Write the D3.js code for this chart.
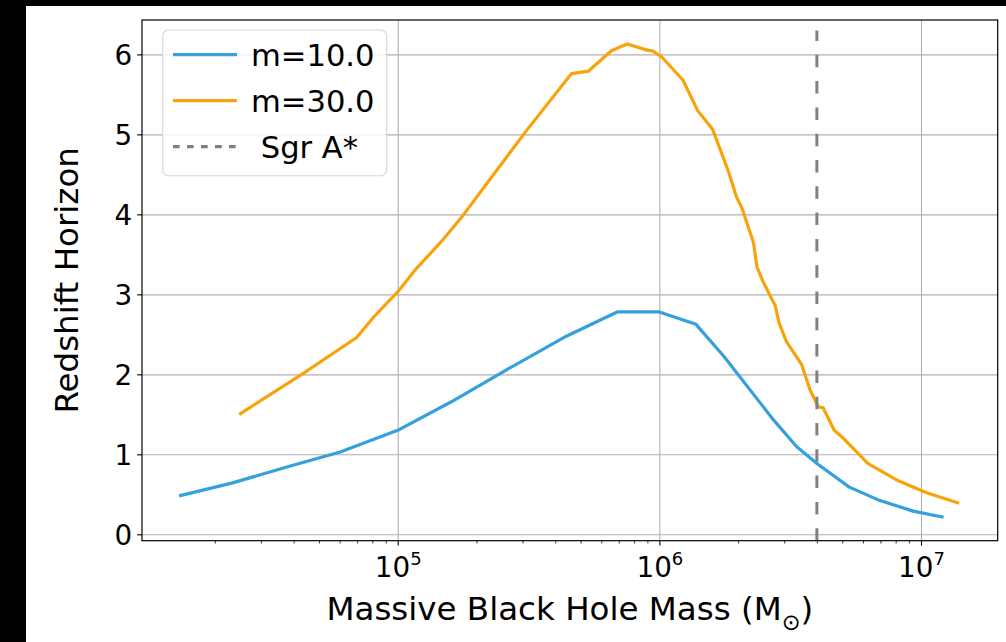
<!DOCTYPE html>
<html>
<head>
<meta charset="utf-8">
<script src="https://cdn.jsdelivr.net/npm/d3@7"></script>
<style>
  body { margin: 0; background: #000; }
  svg { display: block; font-family: "DejaVu Sans", sans-serif; }
</style>
</head>
<body>
<svg id="chart" width="1006" height="642"></svg>
<script>
// m=10.0 curve
var massA = [1.46e4, 2.32e4, 3.80e4, 6.03e4, 1.0e5, 1.61e5, 2.46e5, 4.43e5, 6.90e5, 1.0e6,
             1.38e6, 1.76e6, 2.73e6, 3.35e6, 3.99e6, 5.32e6, 6.87e6, 9.33e6, 1.22e7];
var zA    = [0.48, 0.64, 0.845, 1.03, 1.30, 1.66, 2.01, 2.48, 2.78, 2.78,
             2.625, 2.23, 1.43, 1.095, 0.8875, 0.59, 0.43, 0.29, 0.2125];
// m=30.0 curve
var massB = [2.48e4, 4.30e4, 6.97e4, 8.11e4, 1.0e5, 1.18e5, 1.45e5, 1.78e5, 2.34e5, 3.11e5,
             4.62e5, 5.35e5, 6.56e5, 7.53e5, 9.06e5, 9.42e5, 1.02e6, 1.23e6, 1.40e6, 1.60e6,
             1.84e6, 1.97e6, 2.07e6, 2.29e6, 2.36e6, 2.49e6, 2.77e6, 2.87e6, 3.06e6, 3.50e6,
             3.77e6, 4.05e6, 4.23e6, 4.66e6, 5.05e6, 6.28e6, 8.07e6, 1.05e7, 1.40e7];
var zB    = [1.50, 2.00, 2.46, 2.72, 3.03, 3.325, 3.64, 3.99, 4.51, 5.05,
             5.76, 5.79, 6.045, 6.13, 6.05, 6.045, 5.97, 5.68, 5.30, 5.06,
             4.53, 4.22, 4.075, 3.645, 3.345, 3.16, 2.86, 2.64, 2.41, 2.12,
             1.80, 1.595, 1.58, 1.30, 1.20, 0.885, 0.68, 0.52, 0.3875];
var sgrMass = 4.0e6;
var xMajor = [1e5, 1e6, 1e7];
var xExp   = ["5", "6", "7"];
var yTicks = [0, 1, 2, 3, 4, 5, 6];
var legendLabels = ["m=10.0", "m=30.0", " Sgr A*"];

var cBlue = "#34a0dc", cOrange = "#f8a30c", cGray = "#808080";

var svg = d3.select("#chart");
svg.append("rect").attr("x", 26).attr("y", 6).attr("width", 980).attr("height", 636).attr("fill", "#fff");

var padL = 142, padT = 20, padR = 997.7, padB = 540.7;
var W = padR - padL, H = padB - padT;

var x = d3.scaleLog().domain([10537, 1.964e7]).range([0, W]);
var y = d3.scaleLinear().domain([-0.08, 6.43]).range([H, 0]);

var g = svg.append("g").attr("transform", "translate(" + padL + "," + padT + ")");

// grid
g.append("g").attr("transform", "translate(0," + H + ")")
    .call(d3.axisBottom(x).tickValues(xMajor).tickSize(-H).tickFormat(""))
    .call(function(s) { s.select(".domain").remove(); })
    .selectAll("line").attr("stroke", "#b0b0b0").attr("stroke-width", 1.1);
g.append("g")
    .call(d3.axisLeft(y).tickValues(yTicks).tickSize(-W).tickFormat(""))
    .call(function(s) { s.select(".domain").remove(); })
    .selectAll("line").attr("stroke", "#b0b0b0").attr("stroke-width", 1.1);

// lines
var line = d3.line().x(function(d) { return x(d[0]); }).y(function(d) { return y(d[1]); });
g.append("path").datum(d3.zip(massA, zA))
    .attr("d", line).attr("fill", "none").attr("stroke", cBlue)
    .attr("stroke-width", 3.2).attr("stroke-linejoin", "round");
g.append("path").datum(d3.zip(massB, zB))
    .attr("d", line).attr("fill", "none").attr("stroke", cOrange)
    .attr("stroke-width", 3.2).attr("stroke-linejoin", "round");

// Sgr A*
g.append("line")
    .attr("x1", x(sgrMass)).attr("x2", x(sgrMass))
    .attr("y1", H).attr("y2", H * 0.02)
    .attr("stroke", cGray).attr("stroke-width", 3)
    .attr("stroke-dasharray", "12.5,13.8");

// spines
g.append("rect").attr("width", W).attr("height", H)
    .attr("fill", "none").attr("stroke", "#000").attr("stroke-width", 1.2);

// x axis
var minor = [];
[1e4, 1e5, 1e6, 1e7].forEach(function(p) {
    for (var k = 2; k <= 9; k++) if (p * k < 1.964e7 && p * k > 10537) minor.push(p * k);
});
g.append("g").attr("transform", "translate(0," + H + ")")
    .call(d3.axisBottom(x).tickValues(minor).tickSize(2.8).tickFormat(""))
    .call(function(s) { s.select(".domain").remove(); })
    .selectAll("line").attr("stroke", "#000").attr("stroke-width", 0.8);
var xa = g.append("g").attr("transform", "translate(0," + H + ")")
    .call(d3.axisBottom(x).tickValues(xMajor).tickSize(4.9).tickFormat(function() { return ""; }));
xa.select(".domain").remove();
xa.selectAll("line").attr("stroke", "#000").attr("stroke-width", 1.1);
xa.selectAll(".tick text").each(function(d, i) {
    var t = d3.select(this).attr("y", 36.6).attr("dy", null)
        .attr("font-size", 27.8).attr("fill", "#000").attr("font-family", "DejaVu Sans");
    t.text(null);
    t.append("tspan").text("10");
    t.append("tspan").attr("dy", -12).attr("font-size", 18).text(xExp[i]);
});

// y axis
var ya = g.append("g")
    .call(d3.axisLeft(y).tickValues(yTicks).tickSize(4.9).tickPadding(4.9).tickFormat(d3.format("d")));
ya.select(".domain").remove();
ya.selectAll("line").attr("stroke", "#000").attr("stroke-width", 1.1);
ya.selectAll("text").attr("font-size", 27.8).attr("fill", "#000")
    .attr("font-family", "DejaVu Sans").attr("dy", "0.36em");

// axis labels
var xl = svg.append("text").attr("x", padL + W / 2).attr("y", 620)
    .attr("text-anchor", "middle").attr("font-size", 32.5).attr("fill", "#000");
xl.append("tspan").text("Massive Black Hole Mass (M");
xl.append("tspan").attr("dy", 10).attr("font-size", 22.5).text("\u2299");
xl.append("tspan").attr("dy", -10).text(")");

svg.append("text")
    .attr("transform", "translate(78," + (padT + H / 2) + ") rotate(-90)")
    .attr("text-anchor", "middle").attr("font-size", 32.5).attr("fill", "#000")
    .text("Redshift Horizon");

// legend
var lg = svg.append("g");
lg.append("rect").attr("x", 162.7).attr("y", 30).attr("width", 224).attr("height", 145.7)
    .attr("rx", 6).attr("fill", "#fff").attr("fill-opacity", 0.8)
    .attr("stroke", "#d6d6d6").attr("stroke-width", 1.1);
var legColors = [cBlue, cOrange, cGray];
legendLabels.forEach(function(lab, i) {
    var ly = 54.7 + i * 46;
    lg.append("line").attr("x1", 173).attr("x2", 237).attr("y1", ly).attr("y2", ly)
        .attr("stroke", legColors[i]).attr("stroke-width", 3.2)
        .attr("stroke-dasharray", i == 2 ? "6.7,7.3" : null);
    lg.append("text").attr("x", 251).attr("y", ly + 11)
        .attr("font-size", 30.6).attr("fill", "#000")
        .style("white-space", "pre").text(lab);
});
</script>
</body>
</html>
